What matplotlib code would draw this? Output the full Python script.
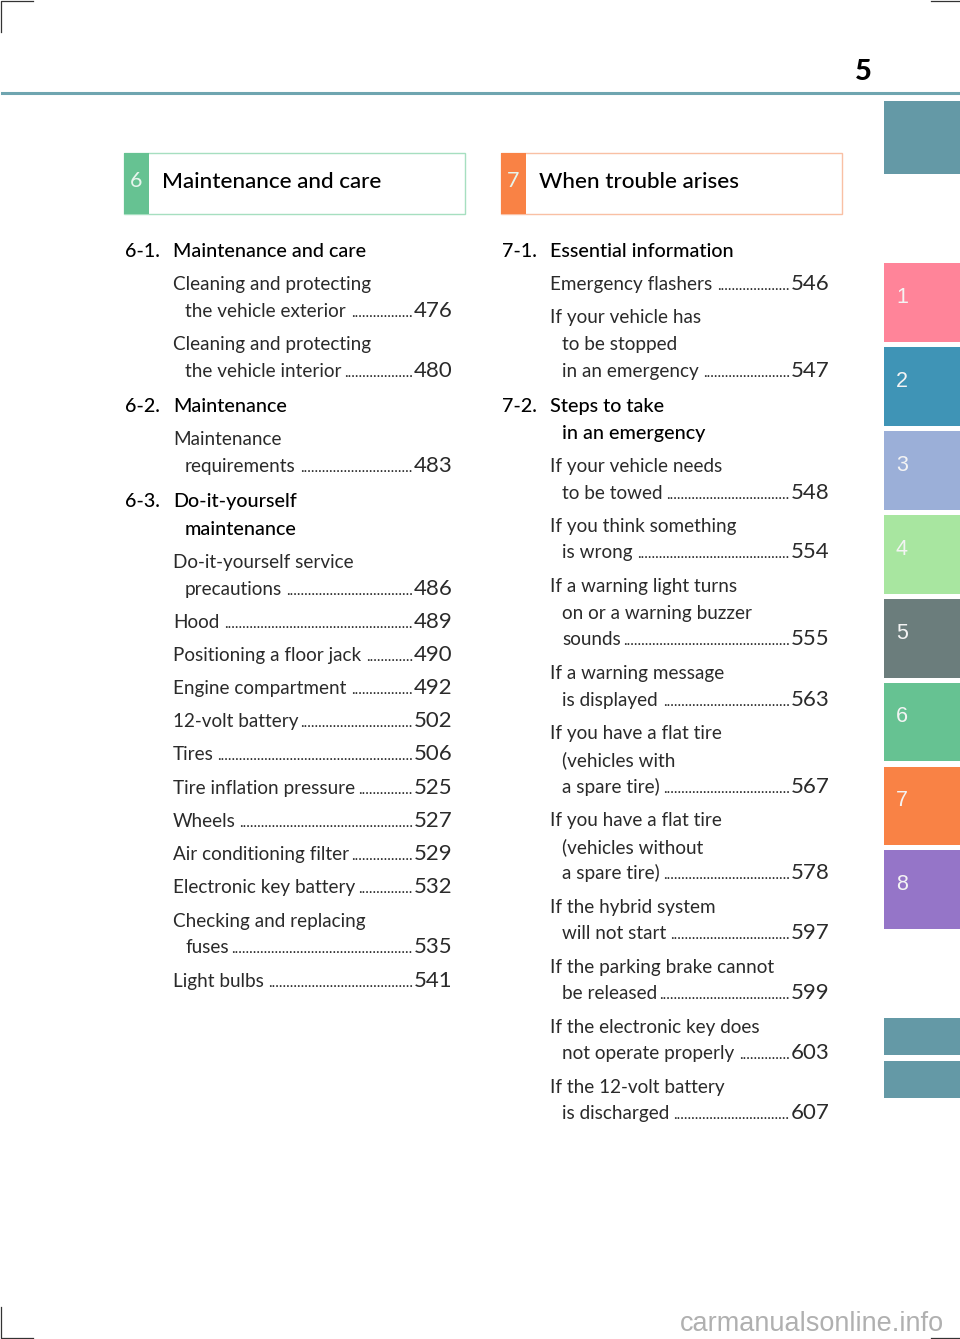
# Contents page 5: sections 6 and 7

import matplotlib.pyplot as plt
from matplotlib.patches import Rectangle

# Colour tabs on the right edge (top, bottom, colour, label)
tabs = [
    (101, 174, '#6499a6', ''),
    (263, 342, '#ff8499', '1'),
    (347, 426, '#3f94b6', '2'),
    (431, 510, '#9bafd8', '3'),
    (515, 594, '#a8e6a0', '4'),
    (599, 678, '#6b7d7c', '5'),
    (683, 761, '#66c292', '6'),
    (767, 845, '#f98245', '7'),
    (850, 929, '#9575c8', '8'),
    (1018, 1055, '#6499a6', ''),
    (1061, 1098, '#6499a6', ''),
]

# Section boxes (left, right, number, title, strong colour, pale colour)
boxes = [
    (124, 464.5, '6', 'Maintenance and care', '#66c292', '#a6dfc0'),
    (501, 841.5, '7', 'When trouble arises', '#f98245', '#f9c0a4'),
]

# Chapter heads (column x, baseline, number, title)
heads = [
    (125, 257, '6-1.', 'Maintenance and care'),
    (125, 412, '6-2.', 'Maintenance'),
    (125, 507, '6-3.', 'Do-it-yourself'),
    (502, 257, '7-1.', 'Essential information'),
    (502, 412, '7-2.', 'Steps to take'),
]
subheads = [(185, 535, 'maintenance'), (562, 439, 'in an emergency')]

# Entries: (baseline, indented, text, page)
left_rows = [
    (290, 0, 'Cleaning and protecting', ''),
    (317, 1, 'the vehicle exterior', '476'),
    (350, 0, 'Cleaning and protecting', ''),
    (377, 1, 'the vehicle interior', '480'),
    (445, 0, 'Maintenance', ''),
    (472, 1, 'requirements', '483'),
    (568, 0, 'Do-it-yourself service', ''),
    (595, 1, 'precautions', '486'),
    (628, 0, 'Hood', '489'),
    (661, 0, 'Positioning a floor jack', '490'),
    (694, 0, 'Engine compartment', '492'),
    (727, 0, '12-volt battery', '502'),
    (760, 0, 'Tires', '506'),
    (794, 0, 'Tire inflation pressure', '525'),
    (827, 0, 'Wheels', '527'),
    (860, 0, 'Air conditioning filter', '529'),
    (893, 0, 'Electronic key battery', '532'),
    (927, 0, 'Checking and replacing', ''),
    (953, 1, 'fuses', '535'),
    (987, 0, 'Light bulbs', '541'),
]
right_rows = [
    (290, 0, 'Emergency flashers', '546'),
    (323, 0, 'If your vehicle has', ''),
    (350, 1, 'to be stopped', ''),
    (377, 1, 'in an emergency', '547'),
    (472, 0, 'If your vehicle needs', ''),
    (499, 1, 'to be towed', '548'),
    (532, 0, 'If you think something', ''),
    (558, 1, 'is wrong', '554'),
    (592, 0, 'If a warning light turns', ''),
    (619, 1, 'on or a warning buzzer', ''),
    (645, 1, 'sounds', '555'),
    (679, 0, 'If a warning message', ''),
    (706, 1, 'is displayed', '563'),
    (739, 0, 'If you have a flat tire', ''),
    (766, 1, '(vehicles with', ''),
    (793, 1, 'a spare tire)', '567'),
    (826, 0, 'If you have a flat tire', ''),
    (853, 1, '(vehicles without', ''),
    (879, 1, 'a spare tire)', '578'),
    (913, 0, 'If the hybrid system', ''),
    (939, 1, 'will not start', '597'),
    (973, 0, 'If the parking brake cannot', ''),
    (999, 1, 'be released', '599'),
    (1033, 0, 'If the electronic key does', ''),
    (1059, 1, 'not operate properly', '603'),
    (1093, 0, 'If the 12-volt battery', ''),
    (1119, 1, 'is discharged', '607'),
]

plt.rcParams['font.family'] = ['Lato', 'DejaVu Sans']

fig = plt.figure(figsize=(9.6, 13.39), dpi=100)
ax = fig.add_axes([0, 0, 1, 1])
ax.set_xlim(0, 960)
ax.set_ylim(1339, 0)
ax.axis('off')

# Header rule and page number
ax.plot([2, 960], [93, 93], color='#6fa5b0', linewidth=2.2)
ax.text(863, 80, '5', fontsize=21, fontweight='black', ha='center', color='black')

# Tabs
for top, bottom, colour, label in tabs:
    ax.add_patch(Rectangle((884, top), 76, bottom - top, facecolor=colour, edgecolor='none'))
    if label:
        ax.text(902, (top + bottom) / 2 - 5, label, color='#f4f4f4', fontsize=15.5,
                family='Liberation Sans', ha='center', va='center')

# Section boxes
for x0, x1, number, title, strong, pale in boxes:
    ax.add_patch(Rectangle((x0, 153), x1 - x0, 61, facecolor='white', edgecolor=pale, linewidth=1))
    ax.add_patch(Rectangle((x0, 153), 25, 61, facecolor=strong, edgecolor='none'))
    ax.text(x0 + 12.5, 187, number, color='#e6f5ec', fontsize=15.5, ha='center')
    ax.text(x0 + 38, 188, title, color='black', fontsize=16.2, fontweight='medium')

# Chapter heads
for x, y, number, title in heads:
    ax.text(x, y, number, color='black', fontsize=14.2, fontweight='medium')
    ax.text(x + 48, y, title, color='black', fontsize=14.2, fontweight='medium')
for x, y, title in subheads:
    ax.text(x, y, title, color='black', fontsize=14.2, fontweight='medium')

# Entries with dot leaders up to the page number
fig.canvas.draw()
renderer = fig.canvas.get_renderer()
probe = ax.text(0, 0, '.' * 20, fontsize=11)
dot_width = probe.get_window_extent(renderer).width / 20  # one leader dot in pixels
probe.remove()
for x0, x1, rows in [(173, 452, left_rows), (550, 829, right_rows)]:
    for y, indent, text, page in rows:
        t = ax.text(x0 + 12 * indent, y, text, color='#2a2a2a', fontsize=13.6)
        if page:
            p = ax.text(x1 + 0.5, y, page, color='#2a2a2a', fontsize=16, ha='right')
            num_left = p.get_window_extent(renderer).x0
            gap = num_left - t.get_window_extent(renderer).x1 - 3  # leave room either side
            ax.text(num_left - 1, y, '.' * int(gap / dot_width), color='#2a2a2a', fontsize=11, ha='right')

# Crop marks
ax.plot([1, 1, 33], [32, 1, 1], color='#333333', linewidth=0.9)
ax.plot([931, 960], [1, 1], color='#333333', linewidth=0.9)
ax.plot([1, 1, 33], [1307, 1338, 1338], color='#333333', linewidth=0.9)
ax.plot([931, 960], [1338, 1338], color='#333333', linewidth=0.9)

# Site mark
ax.text(944, 1331, 'carmanualsonline.info', color='#b0b0b0', fontsize=19.5,
        family='Liberation Sans', ha='right')

plt.savefig('out.png', dpi=100)
